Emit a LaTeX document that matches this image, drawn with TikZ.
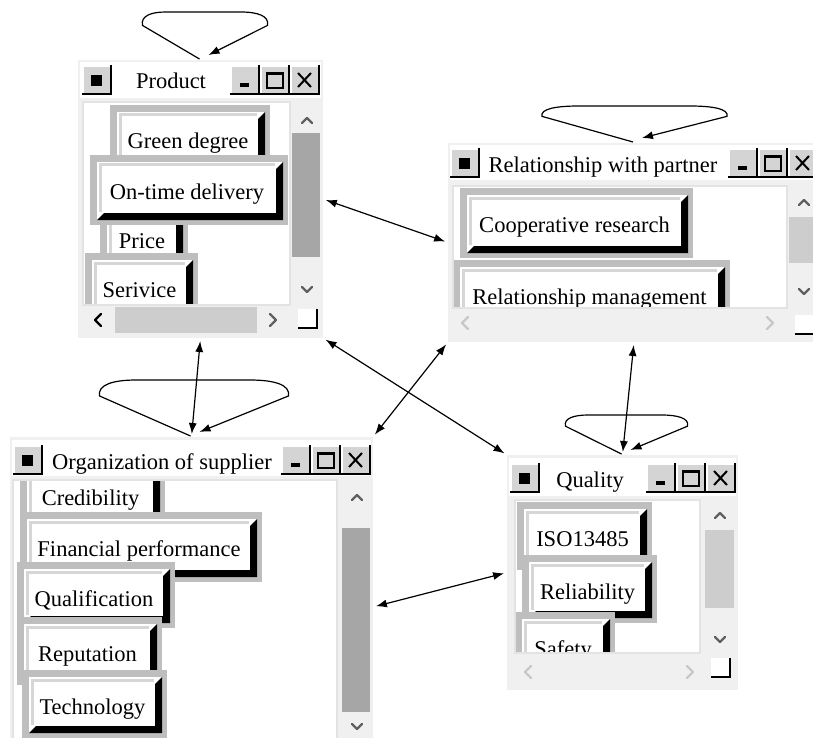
\documentclass[tikz,border=0pt]{standalone}
\usepackage{fontspec}
\setmainfont{Liberation Serif}
\usetikzlibrary{arrows.meta,calc}
\definecolor{framegray}{RGB}{240,240,240}
\definecolor{tilegray}{RGB}{190,190,190}
\definecolor{bevelgray}{RGB}{214,214,214}
\definecolor{btngray}{RGB}{212,212,212}
\definecolor{thumbdark}{RGB}{166,166,166}
\definecolor{thumblight}{RGB}{205,205,205}
\definecolor{arrowgray}{RGB}{96,96,96}
\definecolor{offgray}{RGB}{200,200,200}
\definecolor{panelline}{RGB}{227,227,227}

\tikzset{
    window/.style={fill=framegray, inner sep=0pt, outer sep=0pt, anchor=north west},
    tiletext/.style={inner sep=0pt, anchor=base, font=\fontsize{22.5}{26}\selectfont},
    titletext/.style={inner sep=0pt, anchor=base, font=\fontsize{22.5}{26}\selectfont},
    link/.style={line width=1.2pt, shorten <=3pt, shorten >=3pt},
    loopline/.style={line width=1.2pt},
    chev/.style={line width=2.2pt, line cap=round, line join=round},
}

% title bar button, 30x30
\newcommand{\winbtn}[2]{%
    \fill[btngray] (#1,#2) rectangle ++(30,30);
    \draw[white, line width=1.5pt] (#1+1,#2+28) -- (#1+1,#2+1) -- (#1+28,#2+1);
    \draw[black, line width=2pt] (#1,#2+29) -- (#1+29,#2+29) -- (#1+29,#2);
}
\newcommand{\menubtn}[2]{%
    \winbtn{#1}{#2}
    \fill (#1+9,#2+10) rectangle ++(11,11);
}
% minimise, maximise, close
\newcommand{\winbtns}[2]{%
    \winbtn{#1}{#2}\winbtn{#1+30}{#2}\winbtn{#1+60}{#2}
    \fill (#1+10,#2+18) rectangle ++(9,4);
    \draw[line width=1.5pt] (#1+37,#2+8) rectangle ++(16,15);
    \fill (#1+37,#2+7) rectangle ++(16,3);
    \draw[line width=2pt] (#1+68,#2+8) -- ++(13,14) (#1+81,#2+8) -- ++(-13,14);
}
% scroll bar arrows
\newcommand{\chevup}[3]{\draw[chev,#3] (#1-5,#2+3) -- (#1,#2-2) -- (#1+5,#2+3);}
\newcommand{\chevdown}[3]{\draw[chev,#3] (#1-5,#2-3) -- (#1,#2+2) -- (#1+5,#2-3);}
\newcommand{\chevleft}[3]{\draw[chev,#3] (#1+3,#2-6) -- (#1-3,#2) -- (#1+3,#2+6);}
\newcommand{\chevright}[3]{\draw[chev,#3] (#1-3,#2-6) -- (#1+3,#2) -- (#1-3,#2+6);}
\newcommand{\sizegrip}[2]{%
    \fill[white] (#1,#2) rectangle ++(20,20);
    \draw[line width=2pt] (#1,#2+19) -- (#1+19,#2+19) -- (#1+19,#2);
}
% raised box: name, x0, y0, x1, y1, text
\newcommand{\wintile}[6]{%
    \fill[tilegray] (#2,#3) rectangle (#4,#5);
    \fill[white] (#2+7,#3+7) rectangle (#4-5,#5-5);
    \draw[bevelgray, line width=3pt] (#2+10,#5-13) -- (#2+10,#3+10) -- (#4-13,#3+10);
    \fill[black] (#4-5,#3+7) -- (#4-5,#5-5) -- (#2+7,#5-5) -- (#2+14,#5-12)
        -- (#4-12,#5-12) -- (#4-12,#3+14) -- cycle;
    \node[tiletext] (#1) at ({(#2+#4)/2-2},#3+44) {#6};
}
% loop over a window: window, left, right, height
\newcommand{\selfloop}[4]{%
    \begin{scope}[shift={(#1.north)}]
        \draw[loopline,->] (-1,-1) -- (-#2,{-0.72*#4})
            .. controls (-#2-2,{-0.92*#4}) and ({-0.85*#2},-#4) .. ({-0.6*#2},-#4)
            -- ({0.6*#3},-#4)
            .. controls ({0.85*#3},-#4) and (#3+2,{-0.92*#4}) .. (#3,{-0.72*#4})
            -- (8,-5);
    \end{scope}
}

\begin{document}
\begin{tikzpicture}[x=1pt, y=-1pt, >={Latex[length=11pt,width=8pt]}]
    \useasboundingbox (0,0) rectangle (813,738);
    \clip (0,0) rectangle (813,738);
    \fill[white] (0,0) rectangle (813,738);

    % windows
    \node[window, minimum width=245pt, minimum height=278pt] (product) at (78,60) {};
    \node[window, minimum width=372pt, minimum height=199pt] (relation) at (448,143) {};
    \node[window, minimum width=363pt, minimum height=340pt] (organ) at (10,437) {};
    \node[window, minimum width=231pt, minimum height=235pt] (quality) at (507,455) {};

    % Product
    \fill[white] (80,62) rectangle (321,98);
    \menubtn{82}{65}
    \node[titletext] (prodtitle) at (171,89) {Product};
    \winbtns{230}{65}
    \begin{scope}
        \clip (83,102) rectangle (290,305);
        \fill[white] (83,102) rectangle (290,305);
        \wintile{greendeg}{110}{105}{270}{173}{Green degree}
        \wintile{price}{100}{204}{188}{272}{Price}
        \wintile{service}{85}{253}{198}{321}{Serivice}
        \wintile{ontime}{90}{155}{288}{225}{On-time delivery}
    \end{scope}
    \draw[panelline, line width=1.5pt] (83,102) rectangle (290,305);
    \fill[thumbdark] (292,133) rectangle (320,257);
    \chevup{307}{120}{arrowgray}
    \chevdown{307}{290}{arrowgray}
    \fill[thumblight] (115,307) rectangle (257,333);
    \chevleft{98}{320}{black}
    \chevright{273}{320}{arrowgray}
    \sizegrip{298}{309}

    % Relationship with partner
    \fill[white] (450,145) rectangle (820,180);
    \menubtn{450}{148}
    \node[titletext] (reltitle) at (603,172) {Relationship with partner};
    \winbtns{728}{148}
    \begin{scope}
        \clip (453,186) rectangle (787,308);
        \fill[white] (453,186) rectangle (787,308);
        \wintile{coopres}{460}{188}{693}{258}{Cooperative research}
        \wintile{relmgmt}{453}{260}{730}{328}{Relationship management}
    \end{scope}
    \draw[panelline, line width=1.5pt] (453,186) rectangle (787,308);
    \fill[thumblight] (789,217) rectangle (817,263);
    \chevup{804}{202}{arrowgray}
    \chevdown{804}{292}{arrowgray}
    \chevleft{465}{323}{offgray}
    \chevright{770}{323}{offgray}
    \sizegrip{795}{315}

    % Organization of supplier
    \fill[white] (12,440) rectangle (371,476);
    \menubtn{13}{445}
    \node[titletext] (orgtitle) at (162,469) {Organization of supplier};
    \winbtns{281}{445}
    \begin{scope}
        \clip (13,480) rectangle (337,745);
        \fill[white] (13,480) rectangle (337,745);
        \wintile{credib}{20}{461}{165}{529}{Credibility}
        \wintile{financ}{20}{512}{262}{582}{Financial performance}
        \wintile{qualif}{17}{562}{175}{628}{Qualification}
        \wintile{reput}{17}{617}{162}{685}{Reputation}
        \wintile{techno}{22}{670}{167}{738}{Technology}
    \end{scope}
    \draw[panelline, line width=1.5pt] (13,480) rectangle (337,745);
    \fill[thumbdark] (342,528) rectangle (370,712);
    \chevup{357}{497}{arrowgray}
    \chevdown{357}{727}{arrowgray}

    % Quality
    \fill[white] (509,458) rectangle (736,496);
    \menubtn{510}{463}
    \node[titletext] (qualtitle) at (590,487) {Quality};
    \winbtns{646}{463}
    \begin{scope}
        \clip (515,500) rectangle (700,653);
        \fill[white] (515,500) rectangle (700,653);
        \wintile{iso}{517}{502}{652}{570}{ISO13485}
        \wintile{reliab}{522}{555}{657}{623}{Reliability}
        \wintile{safety}{515}{612}{615}{680}{Safety}
    \end{scope}
    \draw[panelline, line width=1.5pt] (515,500) rectangle (700,653);
    \fill[thumblight] (705,530) rectangle (734,608);
    \chevup{720}{515}{arrowgray}
    \chevdown{720}{640}{arrowgray}
    \chevleft{528}{672}{offgray}
    \chevright{690}{672}{offgray}
    \sizegrip{711}{658}

    % loops
    \selfloop{product}{58}{67}{48}
    \selfloop{relation}{92}{93}{37}
    \selfloop{organ}{92}{97}{57}
    \selfloop{quality}{57}{65}{40}

    % links
    \draw[link,<->] (product.east) -- (relation.west);
    \draw[link,<->] (product.south) -- (organ.north);
    \draw[link,<->] (product.south east) -- (quality.north west);
    \draw[link,<->] (relation.south west) -- (organ.north east);
    \draw[link,<->] (relation.south) -- (quality.north);
    \draw[link,<->] (organ.east) -- (quality.west);
\end{tikzpicture}
\end{document}
